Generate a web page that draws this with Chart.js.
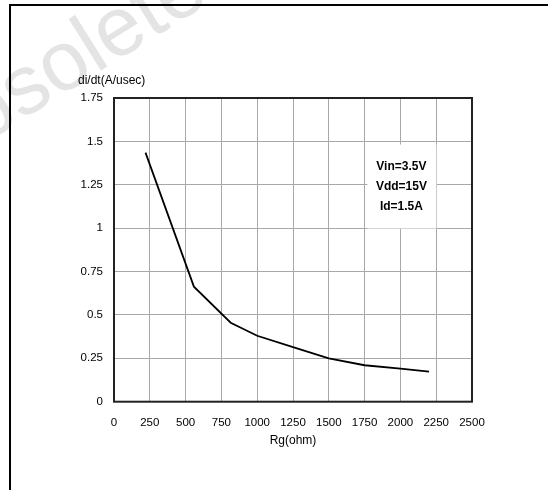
<!DOCTYPE html>
<html>
<head>
<meta charset="utf-8">
<script src="https://cdn.jsdelivr.net/npm/chart.js@4"></script>
<style>
  html, body { margin: 0; padding: 0; background: #fff; }
  canvas { display: block; }
</style>
</head>
<body>
<canvas id="chart" width="548" height="490"></canvas>
<script>
// Rg (ohm) and di/dt (A/usec)
const rg = [220, 558, 815, 1000, 1250, 1500, 1750, 2000, 2200];
const didt = [1.435, 0.663, 0.455, 0.38, 0.315, 0.25, 0.21, 0.19, 0.173];
const conditions = ['Vin=3.5V', 'Vdd=15V', 'Id=1.5A'];
const yTitle = 'di/dt(A/usec)';
const xTitle = 'Rg(ohm)';
const watermark = 'Obsolete Product';

const FONT = 'Arial, "Liberation Sans", sans-serif';

// page frame, watermark, titles and the condition box
const extras = {
  id: 'extras',
  beforeDraw(chart) {
    const ctx = chart.ctx;
    ctx.save();
    ctx.fillStyle = '#e4e4e4';
    ctx.font = '84px ' + FONT;
    ctx.translate(-74, 180);
    ctx.rotate(-32 * Math.PI / 180);
    ctx.textBaseline = 'alphabetic';
    ctx.fillText(watermark, 0, 0);
    ctx.restore();
  },
  afterDatasetsDraw(chart) {
    const ctx = chart.ctx;
    const { left, right, top, bottom } = chart.chartArea;
    const x = chart.scales.x, y = chart.scales.y;
    ctx.save();

    // condition box
    const cx = x.getPixelForValue(2000) + 1;
    const cy = y.getPixelForValue(1.24);
    ctx.fillStyle = '#fff';
    ctx.fillRect(cx - 34, cy - 42, 69, 84);
    ctx.fillStyle = '#000';
    ctx.font = 'bold 12px ' + FONT;
    ctx.textAlign = 'center';
    ctx.textBaseline = 'middle';
    conditions.forEach((t, i) => ctx.fillText(t, cx, cy - 20 + i * 20));

    // plot border
    ctx.strokeStyle = '#222';
    ctx.lineWidth = 2;
    ctx.strokeRect(left, top, right - left, bottom - top);

    // axis titles
    ctx.font = '12px ' + FONT;
    ctx.textAlign = 'left';
    ctx.textBaseline = 'alphabetic';
    ctx.fillText(yTitle, 78, 84);
    ctx.textAlign = 'center';
    ctx.fillText(xTitle, (left + right) / 2, 444);

    // page frame
    ctx.strokeStyle = '#000';
    ctx.lineWidth = 2;
    ctx.beginPath();
    ctx.moveTo(10, 490);
    ctx.lineTo(10, 5);
    ctx.lineTo(548, 5);
    ctx.stroke();
    ctx.restore();
  }
};

new Chart(document.getElementById('chart'), {
  type: 'scatter',
  data: {
    datasets: [{
      data: rg.map((v, i) => ({ x: v, y: didt[i] })),
      showLine: true,
      borderColor: '#000',
      borderWidth: 1.8,
      pointRadius: 0,
      tension: 0
    }]
  },
  options: {
    responsive: false,
    animation: false,
    layout: { padding: { top: 98, right: 76, left: 0, bottom: 0 } },
    plugins: { legend: { display: false }, tooltip: { enabled: false } },
    scales: {
      x: {
        type: 'linear',
        min: 0, max: 2500,
        afterFit: s => { s.height = 88.3; },
        ticks: {
          stepSize: 250,
          padding: 14,
          color: '#000',
          font: { family: FONT, size: 11.5 },
          maxRotation: 0,
          autoSkip: false,
          callback: v => String(v)
        },
        grid: { color: '#a8a8a8', lineWidth: 1, drawTicks: false },
        border: { display: false }
      },
      y: {
        min: 0, max: 1.75,
        afterFit: s => { s.width = 114; },
        ticks: {
          stepSize: 0.25,
          padding: 11,
          color: '#000',
          font: { family: FONT, size: 11.5 },
          callback: v => String(+v.toFixed(2))
        },
        grid: { color: '#a8a8a8', lineWidth: 1, drawTicks: false },
        border: { display: false }
      }
    }
  },
  plugins: [extras]
});
</script>
</body>
</html>
